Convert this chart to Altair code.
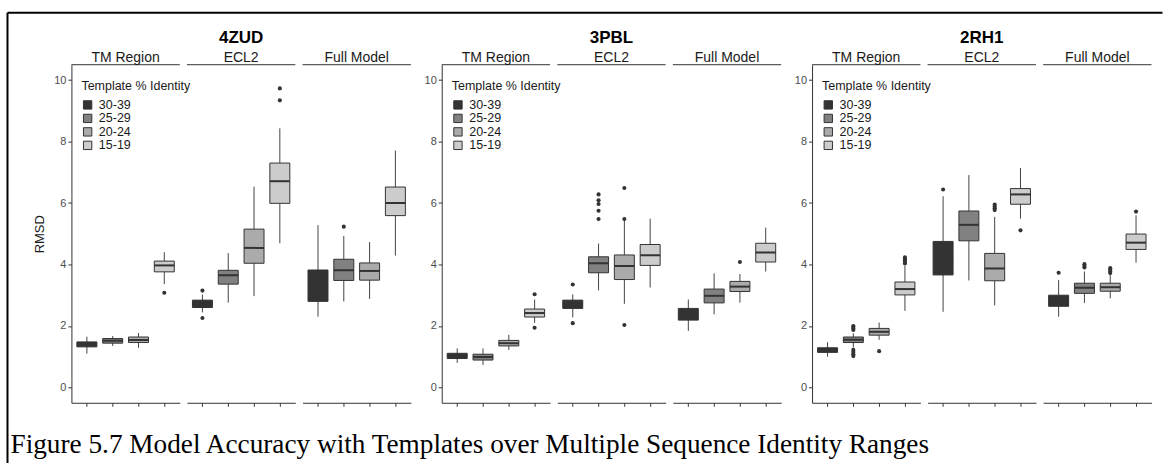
import altair as alt
import pandas as pd

PANELS = ["4ZUD", "3PBL", "2RH1"]
REGIONS = ["TM Region", "ECL2", "Full Model"]
GROUPS = ["30-39", "25-29", "20-24", "15-19"]
GREYS = ["#333333", "#818181", "#ababab", "#cccccc"]
LEGEND_TITLE = "Template % Identity"
Y_TITLE = "RMSD"
Y_TICKS = [0, 2, 4, 6, 8, 10]
CAPTION = "Figure 5.7 Model Accuracy with Templates over Multiple Sequence Identity Ranges"

# order of each list: TM Region (4 groups), ECL2 (4 groups), Full Model (4 groups)
LO_4ZUD = [1.10, 1.35, 1.29, 3.36, 2.44, 2.76, 2.97, 4.69, 2.30, 2.80, 2.88, 4.29]
Q1_4ZUD = [1.32, 1.44, 1.46, 3.76, 2.60, 3.36, 4.04, 5.99, 2.80, 3.48, 3.49, 5.59]
MED_4ZUD = [1.40, 1.52, 1.54, 3.97, 2.72, 3.65, 4.54, 6.71, 3.30, 3.81, 3.79, 6.00]
Q3_4ZUD = [1.48, 1.59, 1.64, 4.11, 2.84, 3.81, 5.15, 7.30, 3.82, 4.17, 4.05, 6.52]
HI_4ZUD = [1.65, 1.67, 1.77, 4.40, 3.02, 4.37, 6.53, 8.43, 5.28, 4.93, 4.73, 7.71]
OUT_4ZUD = [("TM Region", "15-19", 3.08),
            ("ECL2", "30-39", 3.15), ("ECL2", "30-39", 2.26),
            ("ECL2", "15-19", 9.34), ("ECL2", "15-19", 9.73),
            ("Full Model", "25-29", 5.23)]

LO_3PBL = [0.80, 0.73, 1.22, 2.10, 2.28, 3.16, 2.72, 3.25, 1.84, 2.38, 2.76, 3.77]
Q1_3PBL = [0.94, 0.89, 1.35, 2.29, 2.57, 3.73, 3.51, 3.97, 2.19, 2.75, 3.12, 4.08]
MED_3PBL = [1.03, 0.99, 1.44, 2.42, 2.71, 4.04, 3.95, 4.30, 2.38, 2.98, 3.28, 4.39]
Q3_3PBL = [1.11, 1.08, 1.53, 2.55, 2.84, 4.25, 4.31, 4.65, 2.57, 3.20, 3.45, 4.69]
HI_3PBL = [1.27, 1.27, 1.71, 2.86, 3.03, 4.68, 5.45, 5.49, 2.86, 3.71, 3.69, 5.20]
OUT_3PBL = [("TM Region", "15-19", 3.03), ("TM Region", "15-19", 1.94),
            ("ECL2", "30-39", 3.35), ("ECL2", "30-39", 2.09),
            ("ECL2", "25-29", 5.48), ("ECL2", "25-29", 5.75), ("ECL2", "25-29", 5.97),
            ("ECL2", "25-29", 6.09), ("ECL2", "25-29", 6.28),
            ("ECL2", "20-24", 5.48), ("ECL2", "20-24", 6.49), ("ECL2", "20-24", 2.03),
            ("Full Model", "20-24", 4.08)]

LO_2RH1 = [1.00, 1.30, 1.55, 2.49, 2.46, 3.48, 2.67, 5.49, 2.30, 2.75, 2.90, 4.06]
Q1_2RH1 = [1.14, 1.46, 1.70, 3.01, 3.66, 4.77, 3.47, 5.96, 2.64, 3.06, 3.13, 4.49]
MED_2RH1 = [1.21, 1.55, 1.81, 3.20, 4.25, 5.29, 3.87, 6.28, 2.85, 3.24, 3.26, 4.71]
Q3_2RH1 = [1.29, 1.64, 1.92, 3.43, 4.75, 5.74, 4.36, 6.47, 3.00, 3.39, 3.39, 4.99]
HI_2RH1 = [1.47, 1.76, 2.11, 3.96, 6.22, 6.91, 5.55, 7.14, 3.49, 3.77, 3.65, 5.60]
OUT_2RH1 = [("TM Region", "25-29", 1.87), ("TM Region", "25-29", 1.92),
            ("TM Region", "25-29", 1.97), ("TM Region", "25-29", 2.00),
            ("TM Region", "25-29", 1.22), ("TM Region", "25-29", 1.15),
            ("TM Region", "25-29", 1.08), ("TM Region", "25-29", 1.02),
            ("TM Region", "20-24", 1.18),
            ("TM Region", "15-19", 4.03), ("TM Region", "15-19", 4.08),
            ("TM Region", "15-19", 4.13), ("TM Region", "15-19", 4.18),
            ("TM Region", "15-19", 4.23),
            ("ECL2", "30-39", 6.44),
            ("ECL2", "20-24", 5.77), ("ECL2", "20-24", 5.83),
            ("ECL2", "20-24", 5.89), ("ECL2", "20-24", 5.95),
            ("ECL2", "15-19", 5.11),
            ("Full Model", "30-39", 3.73),
            ("Full Model", "25-29", 3.90), ("Full Model", "25-29", 3.95),
            ("Full Model", "25-29", 4.01),
            ("Full Model", "20-24", 3.72), ("Full Model", "20-24", 3.77),
            ("Full Model", "20-24", 3.83), ("Full Model", "20-24", 3.88),
            ("Full Model", "15-19", 5.72)]

STATS = {
    "4ZUD": (LO_4ZUD, Q1_4ZUD, MED_4ZUD, Q3_4ZUD, HI_4ZUD, OUT_4ZUD),
    "3PBL": (LO_3PBL, Q1_3PBL, MED_3PBL, Q3_3PBL, HI_3PBL, OUT_3PBL),
    "2RH1": (LO_2RH1, Q1_2RH1, MED_2RH1, Q3_2RH1, HI_2RH1, OUT_2RH1),
}

FONT = "Liberation Sans"
W = 108.5
H = 338.5
INNER = 6.7
GAP = 29.6
BOX = 20
LINE = "#333333"
AXIS_X = 72.5      # page x of the first plot's left edge
PLOT_TOP = 63      # page y of the plots' top edge
FRAME_X = 7
FRAME_Y = 11
PAGE_W = 1164
PAGE_H = 463
NO_VIEW = alt.ViewBackground(stroke="transparent", strokeWidth=0)


def subchart(pi, ri):
    panel = PANELS[pi]
    region = REGIONS[ri]
    lo, q1, med, q3, hi, outs = STATS[panel]
    rows = []
    for gi, g in enumerate(GROUPS):
        k = ri * 4 + gi
        rows.append({"grp": g, "lo": lo[k], "q1": q1[k], "med": med[k],
                     "q3": q3[k], "hi": hi[k]})
    df = pd.DataFrame(rows)
    odf = pd.DataFrame([{"grp": g, "v": v} for (r, g, v) in outs if r == region],
                       columns=["grp", "v"])

    xaxis = alt.Axis(title=None, labels=False, ticks=True, tickSize=3.5,
                     tickColor=LINE, tickWidth=1, domainColor=LINE,
                     domainWidth=1, grid=False)
    xenc = alt.X("grp:N", sort=GROUPS,
                 scale=alt.Scale(type="band", domain=GROUPS, paddingInner=0,
                                 paddingOuter=0.1),
                 axis=xaxis)
    yscale = alt.Scale(domain=[-0.5, 10.5], nice=False, zero=False)
    if ri == 0:
        yaxis = alt.Axis(values=Y_TICKS, grid=False, tickSize=3.5, tickColor=LINE,
                         domainColor=LINE, domainWidth=1, labelFontSize=11,
                         labelColor="#4d4d4d", labelPadding=2,
                         title=Y_TITLE if pi == 0 else None,
                         titleFontSize=13, titleFontWeight="normal",
                         titleColor="#1a1a1a", titlePadding=7)
    else:
        yaxis = None

    base = alt.Chart(df)
    whisk = base.mark_rule(color="#444444", strokeWidth=1).encode(
        x=xenc, y=alt.Y("lo:Q", scale=yscale, axis=yaxis), y2="hi:Q")
    if ri == 0:
        legend = alt.Legend(title=LEGEND_TITLE, orient="none", legendX=10,
                            legendY=15.5, titleFontSize=12.5,
                            titleFontWeight="normal", titleColor="#1a1a1a",
                            labelFontSize=12.5, labelColor="#1a1a1a",
                            symbolType="square", symbolSize=70,
                            symbolStrokeColor=LINE, symbolStrokeWidth=1,
                            labelOffset=5, rowPadding=0.5, titlePadding=6)
    else:
        legend = None
    fill = alt.Fill("grp:N", sort=GROUPS,
                    scale=alt.Scale(domain=GROUPS, range=GREYS), legend=legend)
    box = base.mark_bar(size=BOX, stroke=LINE, strokeWidth=1, opacity=1).encode(
        x=xenc, y=alt.Y("q1:Q", scale=yscale, axis=yaxis), y2="q3:Q", fill=fill)
    median = base.mark_tick(size=BOX, thickness=2, color=LINE, opacity=1).encode(
        x=xenc, y=alt.Y("med:Q", scale=yscale, axis=yaxis))
    pts = alt.Chart(odf).mark_circle(size=17, color=LINE, opacity=1).encode(
        x=xenc, y=alt.Y("v:Q", scale=yscale, axis=yaxis))
    strip = alt.Chart(pd.DataFrame({"r": [region]})).mark_rule(
        color=LINE, strokeWidth=1).encode(
        x=alt.value(0), x2=alt.value(W), y=alt.value(0))

    head = panel if ri == 1 else " "
    title = alt.Title(head, subtitle=region, frame="group", anchor="middle",
                      orient="top", offset=-2, fontSize=17, fontWeight="bold",
                      color="black", font=FONT, subtitleFont=FONT,
                      subtitleFontSize=14, subtitleColor="#1a1a1a",
                      subtitlePadding=4)
    return alt.layer(whisk, box, median, pts, strip).properties(
        width=W, height=H, title=title, view=NO_VIEW)


def spacer(with_frame):
    sw = GAP - 2 * INNER
    blank = alt.Chart(pd.DataFrame({"s": [0]})).mark_point(opacity=0).encode(
        x=alt.value(0), y=alt.value(0))
    if not with_frame:
        return blank.properties(width=sw, height=H, view=NO_VIEW)
    # page position of this spacer's origin
    ox = AXIS_X + 3 * W + 3 * INNER
    oy = PLOT_TOP
    one = pd.DataFrame({"f": [0]})
    frame_top = alt.Chart(one).mark_rule(color="black", strokeWidth=2).encode(
        x=alt.value(FRAME_X - ox), x2=alt.value(PAGE_W - ox - 0.5),
        y=alt.value(FRAME_Y - oy))
    frame_left = alt.Chart(one).mark_rule(color="black", strokeWidth=2).encode(
        x=alt.value(FRAME_X - ox), y=alt.value(FRAME_Y - oy),
        y2=alt.value(PAGE_H - oy - 0.5))
    cap = alt.Chart(pd.DataFrame({"t": [CAPTION]})).mark_text(
        align="left", baseline="alphabetic", font="Liberation Serif",
        fontSize=27.3, color="black").encode(
        text="t:N", x=alt.value(10 - ox), y=alt.value(452 - oy))
    return alt.layer(blank, frame_top, frame_left, cap).properties(
        width=sw, height=H, view=NO_VIEW)


items = []
for pi in range(len(PANELS)):
    if pi > 0:
        items.append(spacer(pi == 1))
    for ri in range(len(REGIONS)):
        items.append(subchart(pi, ri))

chart = alt.hconcat(*items, spacing=INNER, bounds="flush").resolve_scale(
    x="independent", y="independent", fill="independent").resolve_legend(
    fill="independent").properties(
    padding={"left": FRAME_X - 0.5, "top": FRAME_Y + 0.5, "right": 0, "bottom": 0},
    background="white").configure(font=FONT).configure_view(
    stroke="transparent", strokeWidth=0)

chart.save("out.html", embed_options={"renderer": "svg", "actions": False})
